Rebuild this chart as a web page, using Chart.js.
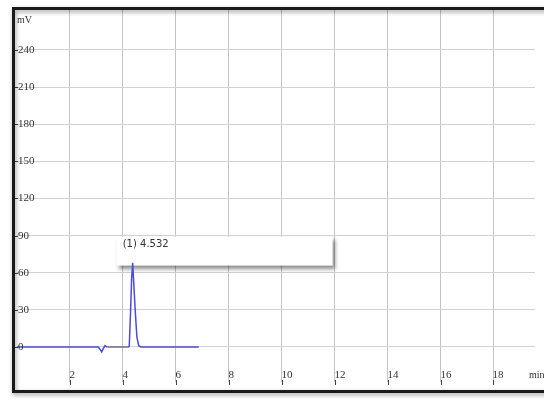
<!DOCTYPE html>
<html>
<head>
<meta charset="utf-8">
<script src="https://cdn.jsdelivr.net/npm/chart.js@4"></script>
<style>
  html, body { margin: 0; padding: 0; background: #fff; }
  #wrap { width: 544px; height: 401px; overflow: hidden; }
</style>
</head>
<body>
<div id="wrap"><canvas id="chrom" width="544" height="401"></canvas></div>
<script>
// chromatogram trace (time in min, signal in mV)
const timeMin = [0, 3.07, 3.14, 3.20, 3.27, 3.32, 3.41, 4.24, 4.29, 4.33, 4.37, 4.41, 4.47, 4.53, 4.60, 4.68, 6.87];
const signalMv = [0, 0, -2, -4, -1, 1, 0, 0, 28, 55, 68, 52, 28, 8, 1, 0, 0];
const xTicks = [2, 4, 6, 8, 10, 12, 14, 16, 18];
const yTicks = [0, 30, 60, 90, 120, 150, 180, 210, 240];
const peakLabel = "(1) 4.532";
const peakTime = 4.37;

const labelFont = '11px "Liberation Serif", "DejaVu Serif", serif';

const decorations = {
    id: "decorations",
    beforeDatasetsDraw(chart) {
        // peak annotation box
        const ctx = chart.ctx;
        const xs = chart.scales.x;
        const ys = chart.scales.y;
        const left = xs.getPixelForValue(peakTime) - 16;
        const top = ys.getPixelForValue(90) + 1;
        ctx.save();
        ctx.shadowColor = "rgba(0,0,0,0.45)";
        ctx.shadowBlur = 4;
        ctx.shadowOffsetX = 2;
        ctx.shadowOffsetY = 3;
        ctx.fillStyle = "#fff";
        ctx.fillRect(left, top, 216, 29);
        ctx.restore();
        ctx.save();
        ctx.fillStyle = "#333";
        ctx.font = '10px "DejaVu Sans", sans-serif';
        ctx.textBaseline = "middle";
        ctx.fillText(peakLabel, left + 6, top + 8);
        ctx.restore();
    },
    afterDraw(chart) {
        const ctx = chart.ctx;
        const xs = chart.scales.x;
        const ys = chart.scales.y;
        ctx.save();
        ctx.font = labelFont;
        ctx.fillStyle = "#333";
        ctx.strokeStyle = "#444";
        ctx.lineWidth = 1;
        ctx.textBaseline = "middle";

        yTicks.forEach((v) => {
            const py = Math.round(ys.getPixelForValue(v)) + 0.5;
            ctx.beginPath();
            ctx.moveTo(14, py);
            ctx.lineTo(18, py);
            ctx.stroke();
            ctx.fillText(String(v), 18, py);
        });

        xTicks.forEach((v) => {
            const px = Math.round(xs.getPixelForValue(v)) + 0.5;
            ctx.fillText(String(v), px - 1, 375);
            ctx.beginPath();
            ctx.moveTo(px, 380);
            ctx.lineTo(px, 385);
            ctx.stroke();
        });

        ctx.font = '10px "Liberation Serif", serif';
        ctx.fillText("mV", 17, 20);
        ctx.fillText("min", 529, 375);

        // outer frame
        ctx.shadowColor = "rgba(0,0,0,0.4)";
        ctx.shadowBlur = 4;
        ctx.shadowOffsetX = 1;
        ctx.shadowOffsetY = 2;
        ctx.strokeStyle = "#1a1a1a";
        ctx.lineWidth = 3;
        ctx.strokeRect(13.5, 8.5, 560, 383);
        ctx.restore();
    }
};

new Chart(document.getElementById("chrom"), {
    type: "line",
    data: {
        datasets: [{
            data: timeMin.map((t, i) => ({ x: t, y: signalMv[i] })),
            borderColor: "#4b4be0",
            borderWidth: 1.5,
            pointRadius: 0,
            tension: 0,
            segment: {
                borderColor: (c) => (c.p0.parsed.x >= 3.41 && c.p1.parsed.x <= 4.24) ? "#6b6b8c" : undefined
            }
        }]
    },
    options: {
        responsive: false,
        animation: false,
        layout: { padding: { left: 17, top: 10, right: 9, bottom: 19 } },
        plugins: {
            legend: { display: false },
            tooltip: { enabled: false }
        },
        scales: {
            x: {
                type: "linear",
                min: 0,
                max: 19.57,
                afterFit: (s) => { s.height = 0; },
                afterBuildTicks: (s) => { s.ticks = xTicks.map((v) => ({ value: v })); },
                ticks: { display: false },
                grid: { color: "#c4c4c4", drawTicks: false },
                border: { display: false }
            },
            y: {
                min: -28.3,
                max: 272.3,
                afterFit: (s) => { s.width = 0; },
                afterBuildTicks: (s) => { s.ticks = yTicks.map((v) => ({ value: v })); },
                ticks: { display: false },
                grid: { color: "#d2d2d2", drawTicks: false },
                border: { display: false }
            }
        }
    },
    plugins: [decorations]
});
</script>
</body>
</html>
